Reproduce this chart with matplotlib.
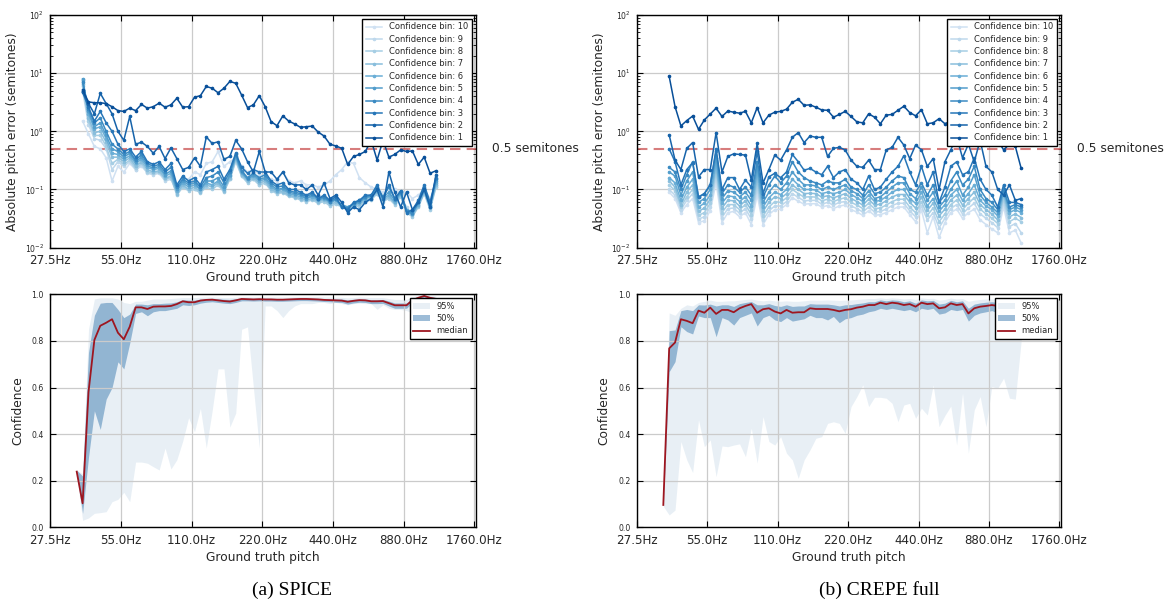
import numpy as np
import matplotlib
matplotlib.use("Agg")
import matplotlib.pyplot as plt
from matplotlib.ticker import FixedLocator, FuncFormatter, NullLocator

# semitone offsets above 27.5 Hz (bin centres)
TOP_SEMITONES = np.arange(5.5, 66.0, 1.0)
BOTTOM_SEMITONES = np.arange(4.5, 66.0, 1.0)
TICK_HZ = [27.5, 55.0, 110.0, 220.0, 440.0, 880.0, 1760.0]

# ---- SPICE: absolute pitch error per confidence bin (semitones)
SPICE_BIN1 = [5.2, 3.2, 3.1, 3.1, 3.0, 2.65, 2.27, 2.2, 2.5, 2.27, 2.9, 2.5, 2.65, 3.05, 2.6, 2.85, 3.7, 2.6, 2.65, 3.85,
              4.1, 5.9, 5.5, 4.6, 5.5, 7.2, 6.7, 4.2, 2.56, 2.85, 4.1, 2.65, 1.47, 1.25, 1.84, 1.5, 1.34, 1.17, 1.2, 1.23,
              0.97, 0.83, 0.6, 0.56, 0.51, 0.27, 0.37, 0.4, 0.45, 0.7, 0.32, 0.7, 0.36, 0.4, 0.48, 0.45, 0.46, 0.27, 0.36, 0.19,
              0.21]
SPICE_BIN2 = [4.8, 3.0, 2.0, 4.5, 3.0, 2.0, 1.0, 0.7, 1.8, 0.6, 0.65, 0.55, 0.42, 0.55, 0.34, 0.52, 0.34, 0.22, 0.24, 0.35,
              0.25, 0.8, 0.62, 0.66, 0.33, 0.37, 0.7, 0.5, 0.3, 0.2, 0.45, 0.2, 0.2, 0.15, 0.2, 0.13, 0.12, 0.12, 0.1, 0.12,
              0.08, 0.13, 0.07, 0.08, 0.06, 0.04, 0.05, 0.045, 0.06, 0.07, 0.1, 0.05, 0.2, 0.09, 0.05, 0.09, 0.045, 0.06, 0.1, 0.05,
              0.18]
SPICE_BIN3 = [4.7, 2.6, 1.5, 2.2, 1.4, 1.0, 0.6, 0.45, 0.5, 0.36, 0.45, 0.3, 0.27, 0.3, 0.22, 0.28, 0.12, 0.17, 0.14, 0.16,
              0.12, 0.2, 0.22, 0.25, 0.15, 0.22, 0.42, 0.24, 0.19, 0.22, 0.2, 0.2, 0.14, 0.12, 0.13, 0.1, 0.1, 0.09, 0.08, 0.09,
              0.07, 0.08, 0.065, 0.075, 0.05, 0.045, 0.06, 0.065, 0.08, 0.08, 0.12, 0.07, 0.12, 0.07, 0.095, 0.04, 0.045, 0.065, 0.12, 0.06,
              0.16]
SPICE_BIN4 = [7.0, 2.4, 1.4, 1.7, 1.0, 0.6, 0.5, 0.4, 0.45, 0.32, 0.4, 0.28, 0.25, 0.27, 0.2, 0.24, 0.11, 0.15, 0.13, 0.14,
              0.11, 0.16, 0.17, 0.2, 0.13, 0.2, 0.4, 0.21, 0.16, 0.19, 0.16, 0.18, 0.13, 0.11, 0.115, 0.095, 0.09, 0.085, 0.075, 0.085,
              0.07, 0.075, 0.062, 0.07, 0.05, 0.048, 0.058, 0.065, 0.075, 0.08, 0.11, 0.075, 0.11, 0.07, 0.09, 0.043, 0.04, 0.06, 0.11, 0.055,
              0.15]
SPICE_BIN5 = [8.0, 2.2, 1.2, 1.4, 0.85, 0.5, 0.45, 0.36, 0.42, 0.3, 0.36, 0.26, 0.23, 0.25, 0.18, 0.21, 0.1, 0.14, 0.12, 0.13,
              0.1, 0.14, 0.14, 0.16, 0.11, 0.18, 0.38, 0.2, 0.15, 0.18, 0.15, 0.16, 0.12, 0.1, 0.105, 0.09, 0.085, 0.08, 0.07, 0.08,
              0.068, 0.072, 0.06, 0.068, 0.052, 0.05, 0.056, 0.062, 0.072, 0.078, 0.1, 0.072, 0.09, 0.065, 0.088, 0.042, 0.038, 0.058, 0.1, 0.052,
              0.14]
SPICE_BIN6 = [7.5, 2.0, 1.1, 1.2, 0.75, 0.42, 0.4, 0.33, 0.38, 0.28, 0.33, 0.24, 0.22, 0.23, 0.17, 0.19, 0.095, 0.13, 0.11, 0.12,
              0.1, 0.13, 0.12, 0.14, 0.1, 0.17, 0.36, 0.19, 0.15, 0.17, 0.14, 0.15, 0.11, 0.095, 0.1, 0.085, 0.08, 0.075, 0.07, 0.075,
              0.065, 0.07, 0.06, 0.065, 0.055, 0.05, 0.055, 0.06, 0.07, 0.075, 0.095, 0.07, 0.08, 0.06, 0.085, 0.045, 0.04, 0.055, 0.095, 0.05,
              0.13]
SPICE_BIN7 = [6.5, 1.7, 0.95, 1.0, 0.65, 0.36, 0.36, 0.3, 0.35, 0.25, 0.3, 0.22, 0.2, 0.21, 0.155, 0.17, 0.085, 0.12, 0.1, 0.11,
              0.092, 0.12, 0.11, 0.13, 0.095, 0.16, 0.34, 0.18, 0.14, 0.16, 0.13, 0.14, 0.1, 0.09, 0.092, 0.08, 0.075, 0.07, 0.066, 0.07,
              0.062, 0.066, 0.056, 0.06, 0.052, 0.048, 0.052, 0.056, 0.066, 0.07, 0.09, 0.066, 0.075, 0.058, 0.08, 0.042, 0.036, 0.052, 0.09, 0.048,
              0.12]
SPICE_BIN8 = [6.0, 1.5, 0.85, 0.85, 0.55, 0.28, 0.33, 0.27, 0.32, 0.23, 0.28, 0.2, 0.19, 0.2, 0.15, 0.16, 0.08, 0.11, 0.095, 0.1,
              0.088, 0.11, 0.1, 0.12, 0.09, 0.15, 0.32, 0.17, 0.13, 0.15, 0.12, 0.13, 0.095, 0.085, 0.088, 0.076, 0.072, 0.066, 0.062, 0.066,
              0.058, 0.062, 0.052, 0.056, 0.05, 0.046, 0.05, 0.052, 0.062, 0.066, 0.085, 0.062, 0.07, 0.055, 0.075, 0.04, 0.034, 0.05, 0.085, 0.045,
              0.11]
SPICE_BIN9 = [5.0, 1.3, 0.75, 0.7, 0.5, 0.22, 0.3, 0.25, 0.3, 0.22, 0.26, 0.19, 0.18, 0.19, 0.14, 0.15, 0.09, 0.11, 0.1, 0.1,
              0.09, 0.12, 0.12, 0.13, 0.1, 0.15, 0.3, 0.17, 0.14, 0.15, 0.12, 0.13, 0.1, 0.09, 0.09, 0.08, 0.075, 0.07, 0.065, 0.068,
              0.06, 0.065, 0.055, 0.06, 0.055, 0.05, 0.055, 0.058, 0.065, 0.07, 0.085, 0.065, 0.072, 0.06, 0.078, 0.05, 0.038, 0.055, 0.09, 0.05,
              0.11]
SPICE_BIN10 = [1.5, 0.9, 0.55, 0.5, 0.35, 0.14, 0.25, 0.2, 0.28, 0.22, 0.25, 0.2, 0.2, 0.2, 0.15, 0.18, 0.12, 0.16, 0.15, 0.2,
               0.18, 0.28, 0.3, 0.45, 0.25, 0.3, 0.35, 0.25, 0.2, 0.22, 0.18, 0.17, 0.15, 0.14, 0.2, 0.14, 0.13, 0.14, 0.12, 0.12,
               0.11, 0.12, 0.14, 0.18, 0.22, 0.3, 0.28, 0.16, 0.13, 0.11, 0.1, 0.09, 0.1, 0.1, 0.09, 0.09, 0.07, 0.08, 0.1, 0.07,
               0.12]

# ---- CREPE full: absolute pitch error per confidence bin (semitones)
CREPE_BIN1 = [8.8, 2.66, 1.24, 1.53, 1.83, 1.08, 1.57, 1.98, 2.5, 1.8, 2.23, 2.13, 2.05, 2.2, 1.4, 2.56, 1.4, 1.9, 2.13, 2.2,
              2.4, 3.16, 3.55, 2.8, 2.85, 2.6, 2.33, 2.3, 1.75, 1.95, 2.2, 1.8, 1.45, 1.4, 2.0, 1.75, 1.35, 1.9, 1.95, 2.3,
              2.7, 2.1, 1.85, 2.35, 1.35, 1.4, 1.65, 1.35, 1.5, 1.3, 1.6, 1.4, 1.2, 1.5, 1.1, 0.9, 0.7, 0.48, 0.6, 0.55,
              0.23]
CREPE_BIN2 = [0.87, 0.32, 0.22, 0.51, 0.64, 0.165, 0.22, 0.22, 0.95, 0.2, 0.37, 0.41, 0.4, 0.39, 0.145, 0.62, 0.13, 0.22, 0.39, 0.32,
              0.48, 0.79, 0.95, 0.64, 0.83, 0.79, 0.79, 0.37, 0.51, 0.53, 0.48, 0.32, 0.25, 0.24, 0.32, 0.22, 0.22, 0.48, 0.53, 0.79,
              0.58, 0.34, 0.58, 0.48, 0.25, 0.34, 0.1, 0.3, 0.48, 0.8, 0.35, 0.6, 0.3, 0.7, 0.25, 0.2, 0.1, 0.08, 0.12, 0.065,
              0.07]
CREPE_BIN3 = [0.5, 0.3, 0.12, 0.22, 0.29, 0.073, 0.085, 0.12, 0.5, 0.1, 0.16, 0.16, 0.1, 0.145, 0.11, 0.45, 0.085, 0.165, 0.19, 0.16,
              0.2, 0.4, 0.3, 0.215, 0.23, 0.2, 0.18, 0.25, 0.16, 0.2, 0.22, 0.15, 0.13, 0.1, 0.17, 0.1, 0.11, 0.15, 0.2, 0.25,
              0.38, 0.2, 0.12, 0.25, 0.12, 0.2, 0.06, 0.11, 0.25, 0.3, 0.18, 0.2, 0.35, 0.15, 0.1, 0.08, 0.05, 0.12, 0.06, 0.06,
              0.055]
CREPE_BIN4 = [0.24, 0.2, 0.1, 0.18, 0.3, 0.075, 0.085, 0.12, 0.45, 0.085, 0.12, 0.11, 0.09, 0.11, 0.08, 0.3, 0.075, 0.12, 0.17, 0.13,
              0.17, 0.3, 0.2, 0.16, 0.14, 0.13, 0.12, 0.14, 0.13, 0.13, 0.15, 0.11, 0.1, 0.08, 0.12, 0.085, 0.09, 0.11, 0.14, 0.17,
              0.16, 0.1, 0.09, 0.13, 0.08, 0.12, 0.06, 0.08, 0.14, 0.2, 0.12, 0.15, 0.25, 0.1, 0.07, 0.06, 0.045, 0.1, 0.05, 0.055,
              0.05]
CREPE_BIN5 = [0.2, 0.17, 0.08, 0.14, 0.2, 0.06, 0.07, 0.1, 0.35, 0.07, 0.095, 0.09, 0.075, 0.09, 0.065, 0.24, 0.06, 0.09, 0.12, 0.1,
              0.13, 0.2, 0.15, 0.12, 0.12, 0.115, 0.1, 0.11, 0.1, 0.11, 0.12, 0.095, 0.085, 0.07, 0.095, 0.07, 0.075, 0.09, 0.11, 0.13,
              0.13, 0.085, 0.07, 0.11, 0.065, 0.09, 0.05, 0.065, 0.1, 0.14, 0.08, 0.11, 0.18, 0.08, 0.06, 0.05, 0.04, 0.1, 0.045, 0.05,
              0.045]
CREPE_BIN6 = [0.16, 0.13, 0.065, 0.11, 0.15, 0.05, 0.058, 0.08, 0.28, 0.058, 0.078, 0.075, 0.062, 0.075, 0.052, 0.19, 0.05, 0.072, 0.09, 0.082,
              0.1, 0.15, 0.12, 0.1, 0.1, 0.098, 0.085, 0.09, 0.085, 0.09, 0.1, 0.082, 0.072, 0.062, 0.08, 0.062, 0.065, 0.075, 0.09, 0.1,
              0.1, 0.07, 0.058, 0.09, 0.052, 0.07, 0.042, 0.055, 0.08, 0.1, 0.065, 0.085, 0.12, 0.065, 0.052, 0.045, 0.035, 0.09, 0.04, 0.045,
              0.04]
CREPE_BIN7 = [0.14, 0.11, 0.055, 0.09, 0.12, 0.042, 0.048, 0.068, 0.23, 0.048, 0.065, 0.064, 0.052, 0.064, 0.044, 0.15, 0.042, 0.06, 0.075, 0.07,
              0.085, 0.12, 0.1, 0.085, 0.086, 0.085, 0.074, 0.078, 0.072, 0.078, 0.085, 0.07, 0.062, 0.054, 0.068, 0.054, 0.056, 0.064, 0.074, 0.082,
              0.082, 0.06, 0.048, 0.074, 0.044, 0.058, 0.035, 0.046, 0.066, 0.08, 0.054, 0.07, 0.09, 0.055, 0.045, 0.038, 0.03, 0.08, 0.034, 0.038,
              0.033]
CREPE_BIN8 = [0.12, 0.095, 0.05, 0.075, 0.1, 0.036, 0.04, 0.058, 0.19, 0.04, 0.055, 0.055, 0.045, 0.055, 0.037, 0.12, 0.035, 0.05, 0.062, 0.06,
              0.072, 0.1, 0.085, 0.074, 0.075, 0.074, 0.064, 0.068, 0.062, 0.068, 0.072, 0.06, 0.054, 0.047, 0.058, 0.047, 0.048, 0.054, 0.062, 0.068,
              0.068, 0.05, 0.04, 0.062, 0.036, 0.048, 0.028, 0.038, 0.055, 0.066, 0.045, 0.058, 0.072, 0.046, 0.038, 0.032, 0.026, 0.07, 0.028, 0.032,
              0.028]
CREPE_BIN9 = [0.1, 0.08, 0.045, 0.065, 0.085, 0.031, 0.034, 0.05, 0.16, 0.033, 0.047, 0.048, 0.039, 0.047, 0.031, 0.1, 0.03, 0.043, 0.052, 0.052,
              0.062, 0.085, 0.073, 0.064, 0.065, 0.065, 0.056, 0.06, 0.054, 0.06, 0.062, 0.052, 0.047, 0.041, 0.05, 0.041, 0.042, 0.046, 0.053, 0.058,
              0.058, 0.043, 0.034, 0.052, 0.03, 0.04, 0.022, 0.032, 0.047, 0.055, 0.038, 0.048, 0.058, 0.038, 0.032, 0.027, 0.022, 0.06, 0.023, 0.026,
              0.018]
CREPE_BIN10 = [0.09, 0.07, 0.04, 0.055, 0.07, 0.027, 0.029, 0.043, 0.13, 0.027, 0.04, 0.042, 0.034, 0.04, 0.025, 0.08, 0.025, 0.037, 0.045, 0.046,
               0.055, 0.072, 0.063, 0.056, 0.057, 0.057, 0.05, 0.053, 0.047, 0.052, 0.054, 0.045, 0.041, 0.036, 0.043, 0.036, 0.037, 0.04, 0.045, 0.05,
               0.05, 0.037, 0.028, 0.044, 0.018, 0.034, 0.015, 0.027, 0.04, 0.046, 0.032, 0.04, 0.046, 0.03, 0.025, 0.021, 0.018, 0.05, 0.018, 0.02,
               0.012]

# ---- confidence percentiles per pitch bin
SPICE_P025 = [0.22, 0.03, 0.04, 0.06, 0.063, 0.067, 0.11, 0.12, 0.15, 0.11, 0.28, 0.28, 0.275, 0.26, 0.246, 0.34, 0.25, 0.29, 0.37, 0.47,
              0.41, 0.51, 0.34, 0.5, 0.68, 0.68, 0.43, 0.49, 0.85, 0.86, 0.6, 0.34, 0.95, 0.95, 0.93, 0.9, 0.93, 0.95, 0.96, 0.96,
              0.96, 0.965, 0.965, 0.96, 0.965, 0.96, 0.955, 0.96, 0.962, 0.96, 0.96, 0.935, 0.955, 0.94, 0.935, 0.935, 0.93, 0.92, 0.9, 0.88,
              0.9, 0.92]
SPICE_P25 = [0.232, 0.06, 0.3, 0.5, 0.42, 0.55, 0.6, 0.71, 0.68, 0.79, 0.918, 0.925, 0.908, 0.925, 0.93, 0.93, 0.935, 0.94, 0.955, 0.952,
             0.955, 0.962, 0.966, 0.968, 0.965, 0.962, 0.96, 0.965, 0.972, 0.972, 0.971, 0.972, 0.971, 0.971, 0.97, 0.97, 0.971, 0.972, 0.973, 0.973,
             0.972, 0.971, 0.969, 0.968, 0.966, 0.965, 0.958, 0.963, 0.966, 0.965, 0.96, 0.96, 0.961, 0.95, 0.94, 0.94, 0.94, 0.965, 0.978, 0.988,
             0.978, 0.972]
SPICE_MEDIAN = [0.239, 0.103, 0.58, 0.804, 0.865, 0.878, 0.893, 0.835, 0.807, 0.861, 0.944, 0.944, 0.937, 0.947, 0.948, 0.948, 0.95, 0.958, 0.97, 0.966,
                0.966, 0.973, 0.976, 0.977, 0.974, 0.971, 0.969, 0.974, 0.98, 0.979, 0.978, 0.979, 0.978, 0.978, 0.977, 0.977, 0.978, 0.979, 0.98, 0.98,
                0.979, 0.978, 0.976, 0.975, 0.974, 0.973, 0.968, 0.972, 0.975, 0.974, 0.97, 0.97, 0.971, 0.962, 0.953, 0.953, 0.953, 0.975, 0.985, 0.993,
                0.985, 0.98]
SPICE_P75 = [0.245, 0.22, 0.75, 0.91, 0.962, 0.965, 0.965, 0.935, 0.9, 0.915, 0.958, 0.958, 0.955, 0.96, 0.96, 0.962, 0.963, 0.968, 0.977, 0.975,
             0.975, 0.98, 0.982, 0.983, 0.981, 0.979, 0.978, 0.981, 0.985, 0.984, 0.983, 0.984, 0.983, 0.983, 0.982, 0.982, 0.983, 0.984, 0.985, 0.985,
             0.984, 0.983, 0.982, 0.981, 0.98, 0.98, 0.976, 0.979, 0.981, 0.98, 0.977, 0.977, 0.978, 0.971, 0.963, 0.963, 0.963, 0.982, 0.99, 0.996,
             0.99, 0.986]
SPICE_P975 = [0.245, 0.23, 0.85, 0.98, 0.985, 0.985, 0.985, 0.98, 0.965, 0.96, 0.97, 0.97, 0.975, 0.98, 0.98, 0.98, 0.982, 0.984, 0.986, 0.986,
              0.986, 0.987, 0.988, 0.988, 0.987, 0.986, 0.986, 0.987, 0.989, 0.989, 0.988, 0.989, 0.988, 0.988, 0.988, 0.988, 0.988, 0.989, 0.99, 0.99,
              0.989, 0.989, 0.988, 0.988, 0.987, 0.987, 0.985, 0.986, 0.988, 0.987, 0.986, 0.986, 0.986, 0.982, 0.978, 0.978, 0.978, 0.99, 0.995, 0.998,
              0.995, 0.992]

CREPE_P025 = [0.09, 0.053, 0.074, 0.368, 0.289, 0.235, 0.461, 0.346, 0.375, 0.217, 0.349, 0.346, 0.353, 0.358, 0.303, 0.425, 0.275, 0.475, 0.368, 0.353,
              0.389, 0.318, 0.289, 0.21, 0.289, 0.332, 0.382, 0.389, 0.446, 0.453, 0.446, 0.403, 0.518, 0.561, 0.611, 0.518, 0.558, 0.558, 0.554, 0.532,
              0.453, 0.525, 0.532, 0.468, 0.511, 0.482, 0.611, 0.432, 0.48, 0.52, 0.353, 0.575, 0.318, 0.504, 0.561, 0.432, 0.604, 0.597, 0.64, 0.554,
              0.55, 0.8]
CREPE_P25 = [0.095, 0.668, 0.711, 0.861, 0.84, 0.83, 0.907, 0.9, 0.9, 0.818, 0.9, 0.89, 0.868, 0.9, 0.91, 0.92, 0.864, 0.9, 0.91, 0.89,
             0.883, 0.9, 0.885, 0.89, 0.895, 0.91, 0.9, 0.9, 0.89, 0.905, 0.878, 0.895, 0.9, 0.91, 0.915, 0.925, 0.93, 0.94, 0.935, 0.94,
             0.935, 0.93, 0.935, 0.925, 0.94, 0.935, 0.94, 0.915, 0.92, 0.935, 0.93, 0.935, 0.885, 0.91, 0.92, 0.925, 0.93, 0.92, 0.92, 0.925,
             0.925, 0.92]
CREPE_MEDIAN = [0.096, 0.768, 0.793, 0.893, 0.886, 0.876, 0.93, 0.921, 0.943, 0.916, 0.933, 0.933, 0.923, 0.94, 0.95, 0.958, 0.921, 0.936, 0.94, 0.926,
                0.918, 0.933, 0.921, 0.923, 0.923, 0.94, 0.937, 0.937, 0.937, 0.933, 0.927, 0.933, 0.936, 0.943, 0.947, 0.954, 0.954, 0.964, 0.958, 0.964,
                0.961, 0.954, 0.958, 0.947, 0.964, 0.958, 0.961, 0.94, 0.944, 0.961, 0.954, 0.958, 0.918, 0.94, 0.947, 0.95, 0.954, 0.95, 0.948, 0.95,
                0.952, 0.95]
CREPE_P75 = [0.1, 0.844, 0.847, 0.93, 0.935, 0.93, 0.955, 0.954, 0.958, 0.95, 0.955, 0.955, 0.948, 0.96, 0.965, 0.969, 0.955, 0.955, 0.96, 0.952,
             0.948, 0.955, 0.948, 0.95, 0.95, 0.96, 0.958, 0.958, 0.958, 0.955, 0.95, 0.955, 0.956, 0.96, 0.963, 0.968, 0.968, 0.976, 0.972, 0.976,
             0.974, 0.968, 0.972, 0.962, 0.976, 0.972, 0.974, 0.958, 0.962, 0.974, 0.968, 0.972, 0.94, 0.958, 0.963, 0.966, 0.968, 0.965, 0.963, 0.965,
             0.967, 0.965]
CREPE_P975 = [0.1, 0.92, 0.91, 0.94, 0.955, 0.95, 0.965, 0.97, 0.975, 0.97, 0.97, 0.972, 0.972, 0.975, 0.978, 0.98, 0.975, 0.972, 0.975, 0.972,
              0.97, 0.972, 0.97, 0.97, 0.972, 0.975, 0.975, 0.975, 0.976, 0.975, 0.974, 0.975, 0.976, 0.978, 0.98, 0.982, 0.982, 0.985, 0.982, 0.985,
              0.983, 0.98, 0.982, 0.978, 0.985, 0.982, 0.983, 0.975, 0.978, 0.984, 0.98, 0.982, 0.97, 0.975, 0.978, 0.98, 0.98, 0.978, 0.976, 0.978,
              0.98, 0.975]

SPICE_BINS = [SPICE_BIN1, SPICE_BIN2, SPICE_BIN3, SPICE_BIN4, SPICE_BIN5,
              SPICE_BIN6, SPICE_BIN7, SPICE_BIN8, SPICE_BIN9, SPICE_BIN10]
CREPE_BINS = [CREPE_BIN1, CREPE_BIN2, CREPE_BIN3, CREPE_BIN4, CREPE_BIN5,
              CREPE_BIN6, CREPE_BIN7, CREPE_BIN8, CREPE_BIN9, CREPE_BIN10]

TEXT = "#262626"
plt.rcParams.update({
    "font.family": "DejaVu Sans",
    "text.color": TEXT,
    "axes.labelcolor": TEXT,
    "xtick.color": "black",
    "ytick.color": "black",
    "xtick.labelcolor": TEXT,
    "ytick.labelcolor": TEXT,
    "xtick.direction": "in",
    "ytick.direction": "in",
    "xtick.top": True,
    "ytick.right": True,
    "xtick.labelsize": 8.6,
    "ytick.labelsize": 5.6,
    "xtick.major.pad": 4.5,
    "ytick.major.pad": 4.5,
    "xtick.major.size": 4,
    "ytick.major.size": 4,
    "ytick.minor.size": 2,
    "axes.edgecolor": "black",
    "axes.linewidth": 1.0,
    "axes.grid": True,
    "grid.color": "#cbcbcb",
    "grid.linestyle": "-",
    "grid.linewidth": 0.9,
    "legend.fancybox": False,
    "legend.edgecolor": "black",
    "legend.framealpha": 1.0,
    "legend.fontsize": 6,
    "legend.labelspacing": 0.4,
    "legend.handlelength": 2.0,
    "legend.borderpad": 0.4,
})

BIN_COLORS = plt.cm.Blues(np.linspace(0.88, 0.2, 10))  # bin 1 darkest
BAND = "#4682b4"
MEDIAN_RED = "#9e1620"

fig = plt.figure(figsize=(11.65, 6.01), dpi=100)
ax_tl = fig.add_axes([0.0431, 0.5879, 0.3652, 0.3872])
ax_tr = fig.add_axes([0.5467, 0.5879, 0.3638, 0.3872])
ax_bl = fig.add_axes([0.0431, 0.1226, 0.3652, 0.3877])
ax_br = fig.add_axes([0.5467, 0.1226, 0.3638, 0.3877])


def pitch_axis(ax):
    ax.set_xscale("log", base=2)
    ax.set_xlim(27.5, 27.5 * 2 ** 6.02)
    ax.xaxis.set_major_locator(FixedLocator(TICK_HZ))
    ax.xaxis.set_major_formatter(FuncFormatter(lambda v, p: "%.1fHz" % v))
    ax.xaxis.set_minor_locator(NullLocator())
    ax.set_xlabel("Ground truth pitch", fontsize=8.8)
    ax.xaxis.set_label_coords(0.5, -0.1)


def error_panel(ax, bins, label_x):
    freqs = 27.5 * 2 ** (TOP_SEMITONES / 12.0)
    for k in range(10, 0, -1):
        ax.plot(freqs, bins[k - 1], color=BIN_COLORS[k - 1], lw=1.1,
                marker=".", ms=3.2, label="Confidence bin: %d" % k, zorder=3)
    ax.axhline(0.5, color="indianred", alpha=0.8, ls="--", lw=1.5,
               dashes=(5, 3), zorder=2)
    ax.set_yscale("log")
    ax.set_ylim(1e-2, 1e2)
    pitch_axis(ax)
    ax.set_ylabel("Absolute pitch error (semitones)", fontsize=8.8)
    ax.yaxis.set_label_coords(label_x, 0.5)
    ax.legend(loc="upper right", numpoints=1, borderaxespad=0.5)
    ax.annotate("0.5 semitones", xy=(1.038, 0.5), xycoords=("axes fraction", "data"),
                fontsize=8.8, va="center", ha="left", annotation_clip=False)


def confidence_panel(ax, lo95, lo50, med, hi50, hi95, label_x):
    freqs = 27.5 * 2 ** (BOTTOM_SEMITONES / 12.0)
    ax.fill_between(freqs, lo95, hi95, color=BAND, alpha=0.12, lw=0, label="95%")
    ax.fill_between(freqs, lo50, hi50, color=BAND, alpha=0.53, lw=0, label="50%")
    ax.plot(freqs, med, color=MEDIAN_RED, lw=1.3, label="median")
    ax.set_ylim(0, 1)
    ax.set_yticks([0.0, 0.2, 0.4, 0.6, 0.8, 1.0])
    ax.yaxis.set_major_formatter(FuncFormatter(lambda v, p: "%.1f" % v))
    pitch_axis(ax)
    ax.set_ylabel("Confidence", fontsize=8.8)
    ax.yaxis.set_label_coords(label_x, 0.5)
    ax.legend(loc="upper right", borderaxespad=0.5)


error_panel(ax_tl, SPICE_BINS, -0.073)
error_panel(ax_tr, CREPE_BINS, -0.074)
confidence_panel(ax_bl, SPICE_P025, SPICE_P25, SPICE_MEDIAN, SPICE_P75, SPICE_P975, -0.06)
confidence_panel(ax_br, CREPE_P025, CREPE_P25, CREPE_MEDIAN, CREPE_P75, CREPE_P975, -0.063)

fig.text(292 / 1165, 1 - 590.5 / 601, "(a) SPICE", family="Liberation Serif",
         fontsize=14, color="black", ha="center", va="center")
fig.text(879 / 1165, 1 - 590.5 / 601, "(b) CREPE full", family="Liberation Serif",
         fontsize=14, color="black", ha="center", va="center")

fig.savefig("out.png", dpi=100, facecolor="white")
